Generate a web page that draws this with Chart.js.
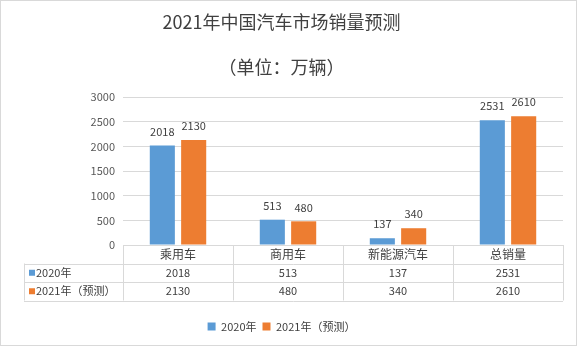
<!DOCTYPE html>
<html>
<head>
<meta charset="utf-8">
<script src="https://cdn.jsdelivr.net/npm/chart.js@4.4.0/dist/chart.umd.min.js"></script>
<style>
  html, body { margin: 0; padding: 0; background: #fff; }
  #wrap { width: 577px; height: 346px; }
</style>
</head>
<body>
<div id="wrap"><canvas id="bar_chart" width="577" height="346"></canvas></div>
<script>
var categories = ["乘用车", "商用车", "新能源汽车", "总销量"];
var sales2020 = [2018, 513, 137, 2531];
var sales2021 = [2130, 480, 340, 2610];
var seriesNames = ["2020年", "2021年（预测）"];
var yTicks = [0, 500, 1000, 1500, 2000, 2500, 3000];

var FONT = '"Noto Sans CJK SC", "Microsoft YaHei", sans-serif';
var BLUE = '#5b9bd5';
var ORANGE = '#ed7d31';
var LINE = '#d9d9d9';
var TEXT = '#404040';

// white background + thin outer frame
var framePlugin = {
    id: 'frame',
    beforeDraw: function(chart) {
        var ctx = chart.ctx;
        ctx.save();
        ctx.fillStyle = '#fff';
        ctx.fillRect(0, 0, chart.width, chart.height);
        ctx.strokeStyle = LINE;
        ctx.lineWidth = 1;
        ctx.strokeRect(0.5, 0.5, chart.width - 1, chart.height - 1);
        ctx.restore();
    }
};

// numbers above the bars
var labelPlugin = {
    id: 'barLabels',
    afterDatasetsDraw: function(chart) {
        var ctx = chart.ctx;
        ctx.save();
        ctx.font = '11px ' + FONT;
        ctx.fillStyle = TEXT;
        ctx.textAlign = 'center';
        ctx.textBaseline = 'middle';
        chart.data.datasets.forEach(function(ds, i) {
            chart.getDatasetMeta(i).data.forEach(function(bar, j) {
                ctx.fillText(ds.data[j], bar.x, bar.y - 14);
            });
        });
        ctx.restore();
    }
};

// data table under the plot
var tablePlugin = {
    id: 'dataTable',
    afterDraw: function(chart) {
        var ctx = chart.ctx;
        var area = chart.chartArea;
        var xs = chart.scales.x;
        var left = 24;
        var top = area.bottom;
        var rowH = 18.5;
        var colW = (area.right - area.left) / categories.length;
        var rows = [sales2020, sales2021];
        var colors = [BLUE, ORANGE];

        ctx.save();
        ctx.strokeStyle = LINE;
        ctx.lineWidth = 1;
        ctx.beginPath();
        // horizontal lines
        ctx.moveTo(area.left, Math.round(top) + 0.5);
        ctx.lineTo(area.right, Math.round(top) + 0.5);
        for (var r = 1; r <= 3; r++) {
            var y = Math.round(top + r * rowH) + 0.5;
            ctx.moveTo(left, y);
            ctx.lineTo(area.right, y);
        }
        // vertical lines
        for (var c = 0; c <= categories.length; c++) {
            var x = Math.round(area.left + c * colW) + 0.5;
            ctx.moveTo(x, top);
            ctx.lineTo(x, top + 3 * rowH);
        }
        ctx.moveTo(left + 0.5, top + rowH);
        ctx.lineTo(left + 0.5, top + 3 * rowH);
        ctx.stroke();

        ctx.font = '11px ' + FONT;
        ctx.textBaseline = 'middle';
        rows.forEach(function(vals, r) {
            var cy = top + (r + 1.5) * rowH;
            ctx.fillStyle = colors[r];
            ctx.fillRect(29, cy - 3, 6, 6);
            ctx.fillStyle = TEXT;
            ctx.textAlign = 'left';
            ctx.fillText(seriesNames[r], 36, cy);
            ctx.textAlign = 'center';
            vals.forEach(function(v, j) {
                ctx.fillText(v, xs.getPixelForValue(j), cy);
            });
        });
        ctx.restore();
    }
};

var config = {
    type: 'bar',
    data: {
        labels: categories,
        datasets: [{
            label: seriesNames[0],
            data: sales2020,
            backgroundColor: BLUE,
            categoryPercentage: 0.57,
            barPercentage: 0.8
        }, {
            label: seriesNames[1],
            data: sales2021,
            backgroundColor: ORANGE,
            categoryPercentage: 0.57,
            barPercentage: 0.8
        }]
    },
    options: {
        responsive: false,
        animation: false,
        layout: { padding: { left: 0, right: 14, top: 0, bottom: 4 } },
        plugins: {
            title: {
                display: true,
                text: ["2021年中国汽车市场销量预测", "（单位：万辆）"],
                color: TEXT,
                font: { family: FONT, size: 18, weight: 'normal', lineHeight: 2.5 },
                padding: { top: 0, bottom: 7 }
            },
            legend: {
                position: 'bottom',
                labels: {
                    color: TEXT,
                    boxWidth: 8,
                    boxHeight: 8,
                    padding: 6,
                    font: { family: FONT, size: 11 }
                }
            },
            tooltip: { enabled: false }
        },
        scales: {
            x: {
                grid: { display: false, drawTicks: false },
                border: { display: false },
                ticks: { color: TEXT, padding: 2, font: { family: FONT, size: 12 } },
                afterFit: function(scale) { scale.height = 70; }
            },
            y: {
                min: 0,
                max: 3000,
                afterBuildTicks: function(scale) {
                    scale.ticks = yTicks.map(function(v) { return { value: v }; });
                },
                grid: { color: LINE, drawTicks: false },
                border: { display: false },
                ticks: {
                    color: '#595959',
                    padding: 8,
                    font: { family: FONT, size: 11 },
                    callback: function(v) { return String(v); }
                },
                afterFit: function(scale) { scale.width = 123; }
            }
        }
    },
    plugins: [framePlugin, labelPlugin, tablePlugin]
};

new Chart(document.getElementById("bar_chart").getContext("2d"), config);
</script>
</body>
</html>
